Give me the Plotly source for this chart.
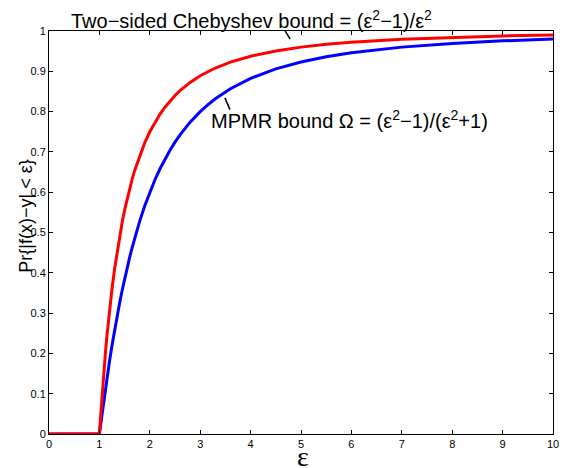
import plotly.graph_objects as go

eps = [0, 1.0, 1.01, 1.02, 1.03, 1.05, 1.075, 1.1, 1.125, 1.15, 1.2, 1.25, 1.3, 1.35, 1.4,
       1.45, 1.5, 1.55, 1.6, 1.65, 1.7, 1.8, 1.9, 2.0, 2.1, 2.2, 2.3, 2.4, 2.5, 2.6, 2.8,
       3.0, 3.15, 3.3, 3.6, 4.0, 4.5, 5.0, 5.5, 6.0, 7.0, 8.0, 9.0, 10.0]
chebyshev = [0, 0, 0.0197, 0.0388, 0.0574, 0.0930, 0.1347, 0.1736, 0.2099, 0.2439, 0.3056,
             0.36, 0.4083, 0.4513, 0.4898, 0.5244, 0.5556, 0.5838, 0.6094, 0.6327, 0.6540,
             0.6914, 0.7230, 0.75, 0.7732, 0.7934, 0.8110, 0.8264, 0.84, 0.8521, 0.8724,
             0.8889, 0.8992, 0.9082, 0.9228, 0.9375, 0.9506, 0.96, 0.9669, 0.9722, 0.9796,
             0.9844, 0.9877, 0.99]
mpmr = [0, 0, 0.0100, 0.0198, 0.0296, 0.0488, 0.0722, 0.0950, 0.1172, 0.1389, 0.1803,
        0.2195, 0.2565, 0.2914, 0.3243, 0.3554, 0.3846, 0.4122, 0.4382, 0.4627, 0.4859,
        0.5283, 0.5662, 0.6, 0.6303, 0.6575, 0.6820, 0.7041, 0.7241, 0.7423, 0.7738,
        0.8, 0.8169, 0.8318, 0.8567, 0.8824, 0.9059, 0.9231, 0.936, 0.9459, 0.96,
        0.9692, 0.9756, 0.9802]
x_ticks = [0, 1, 2, 3, 4, 5, 6, 7, 8, 9, 10]
y_ticks = [0, 0.1, 0.2, 0.3, 0.4, 0.5, 0.6, 0.7, 0.8, 0.9, 1]
y_tick_labels = ["0", "0.1", "0.2", "0.3", "0.4", "0.5", "0.6", "0.7", "0.8", "0.9", "1"]

FONT = "Liberation Sans, Arial, sans-serif"

fig = go.Figure()
fig.add_trace(go.Scatter(x=eps, y=mpmr, mode="lines",
                         line=dict(color="rgb(0,0,255)", width=3), showlegend=False))
fig.add_trace(go.Scatter(x=eps, y=chebyshev, mode="lines",
                         line=dict(color="rgb(255,0,0)", width=3), showlegend=False))

axis_common = dict(showgrid=False, zeroline=False, showline=True, linecolor="black",
                   linewidth=1, mirror="ticks", ticks="inside", ticklen=4,
                   tickcolor="black", ticklabeloverflow="allow",
                   tickfont=dict(family=FONT, size=11, color="black"))

fig.update_xaxes(range=[0, 10], tickvals=x_ticks, **axis_common)
fig.update_yaxes(range=[0, 1], tickvals=y_ticks, ticktext=y_tick_labels, **axis_common)

fig.add_annotation(text="Two\u2212sided Chebyshev bound = (\u03b5<sup>2</sup>\u22121)/\u03b5<sup>2</sup>",
                   xref="paper", yref="paper", x=0.039, y=1.028, xanchor="left", yanchor="middle",
                   showarrow=False, font=dict(family=FONT, size=20, color="black"))
fig.add_annotation(text="MPMR bound \u03a9 = (\u03b5<sup>2</sup>\u22121)/(\u03b5<sup>2</sup>+1)",
                   xref="paper", yref="paper", x=0.3176, y=0.781, xanchor="left", yanchor="middle",
                   showarrow=False, font=dict(family=FONT, size=20, color="black"))
fig.add_annotation(text="Pr{|f(x)\u2212y| < \u03b5}", xref="paper", yref="paper",
                   x=-0.07, y=0.541, textangle=-90, showarrow=False,
                   font=dict(family=FONT, size=18, color="black"))
fig.add_annotation(text="\u03b5", xref="paper", yref="paper", x=0.503, y=-0.056,
                   yanchor="middle", showarrow=False,
                   font=dict(family="Liberation Serif, Times New Roman, serif", size=28, color="black"))

fig.add_shape(type="line", xref="x", yref="y", x0=4.667, y0=1.004, x1=4.784, y1=0.980,
              line=dict(color="black", width=1.5))
fig.add_shape(type="line", xref="x", yref="y", x0=3.49, y0=0.834, x1=3.59, y1=0.805,
              line=dict(color="black", width=1.5))

fig.update_layout(width=565, height=468, margin=dict(l=49, r=6, t=31, b=34),
                  plot_bgcolor="white", paper_bgcolor="white")
fig.write_html("out.html")
